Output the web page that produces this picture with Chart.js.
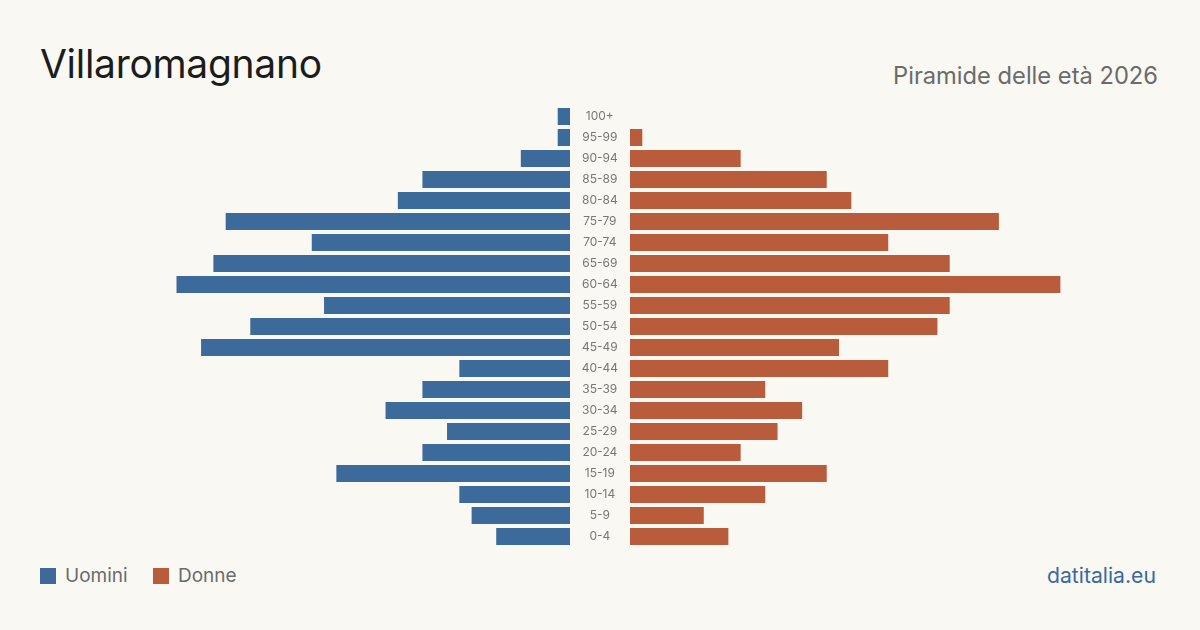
<!DOCTYPE html>
<html>
<head>
<meta charset="utf-8">
<script src="https://cdn.jsdelivr.net/npm/chart.js@4"></script>
<style>
    body { margin: 0; background: #f9f8f3; font-family: Inter, "Noto Sans", sans-serif; }
    #page { position: relative; width: 1200px; height: 630px; overflow: hidden; }
    #title { position: absolute; left: 40px; top: 40px; font-size: 39px; color: #1c1c1c; letter-spacing: -0.3px; }
    #subtitle { position: absolute; right: 42px; top: 61px; font-size: 23.7px; color: #6b6b6b; }
    #left-wrap { position: absolute; left: 40px; top: 106px; width: 530px; height: 441px; }
    #right-wrap { position: absolute; left: 570px; top: 106px; width: 590px; height: 441px; }
    .legend { position: absolute; top: 564px; font-size: 19px; color: #6b6b6b; }
    .legend span { display: inline-block; width: 16px; height: 16px; vertical-align: -2px; margin-right: 9px; }
    #source { position: absolute; right: 44px; top: 562px; font-size: 21.2px; color: #3b6a9b; }
</style>
</head>
<body>
<div id="page">
    <div id="title">Villaromagnano</div>
    <div id="subtitle">Piramide delle età 2026</div>
    <div id="left-wrap"><canvas id="leftChart"></canvas></div>
    <div id="right-wrap"><canvas id="rightChart"></canvas></div>
    <div class="legend" style="left:40px"><span style="background:#3b6a9b"></span>Uomini</div>
    <div class="legend" style="left:153px"><span style="background:#b95c3c"></span>Donne</div>
    <div id="source">datitalia.eu</div>
</div>
<script>
    // fasce d'età, dall'alto verso il basso
    var ageGroups = ['100+', '95-99', '90-94', '85-89', '80-84', '75-79', '70-74', '65-69', '60-64', '55-59',
        '50-54', '45-49', '40-44', '35-39', '30-34', '25-29', '20-24', '15-19', '10-14', '5-9', '0-4'];
    var men = [1, 1, 4, 12, 14, 28, 21, 29, 32, 20, 26, 30, 9, 12, 15, 10, 12, 19, 9, 8, 6];
    var women = [0, 1, 9, 16, 18, 30, 21, 26, 35, 26, 25, 17, 21, 11, 14, 12, 9, 16, 11, 6, 8];
    var axisMax = 43.1;

    var blue = '#3b6a9b';
    var orange = '#b95c3c';

    function barSet(label, data, color) {
        return {
            label: label,
            data: data,
            backgroundColor: color,
            borderWidth: 0,
            categoryPercentage: 1,
            barPercentage: 0.81
        };
    }

    new Chart(document.getElementById('leftChart'), {
        type: 'bar',
        data: { labels: ageGroups, datasets: [barSet('Uomini', men, blue)] },
        options: {
            indexAxis: 'y',
            responsive: true,
            maintainAspectRatio: false,
            animation: false,
            layout: { padding: 0 },
            plugins: { legend: { display: false }, tooltip: { enabled: false } },
            scales: {
                x: { display: false, reverse: true, min: 0, max: axisMax },
                y: { display: false }
            }
        }
    });

    new Chart(document.getElementById('rightChart'), {
        type: 'bar',
        data: { labels: ageGroups, datasets: [barSet('Donne', women, orange)] },
        options: {
            indexAxis: 'y',
            responsive: true,
            maintainAspectRatio: false,
            animation: false,
            layout: { padding: 0 },
            plugins: { legend: { display: false }, tooltip: { enabled: false } },
            scales: {
                x: { display: false, min: 0, max: axisMax },
                y: {
                    position: 'left',
                    border: { display: false },
                    grid: { display: false, drawTicks: false },
                    ticks: {
                        crossAlign: 'center',
                        padding: 12,
                        color: '#777777',
                        font: { family: 'Inter', size: 12 }
                    },
                    afterFit: function(axis) {
                        // labels sit in the 60px gap, no extra vertical padding
                        axis.width = 60;
                        axis.paddingTop = 0;
                        axis.paddingBottom = 0;
                    }
                }
            }
        }
    });
</script>
</body>
</html>
